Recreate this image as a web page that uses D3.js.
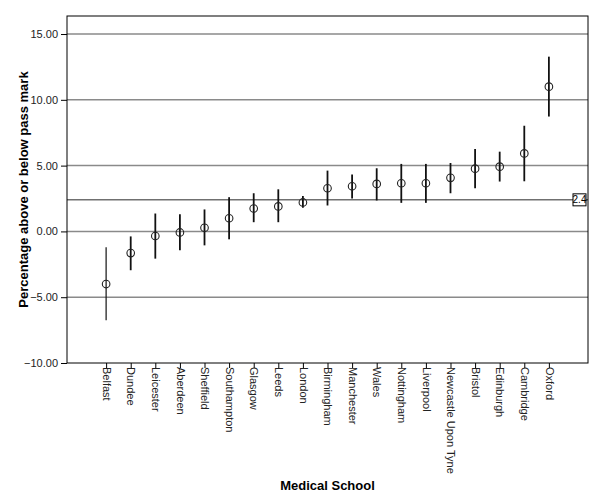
<!DOCTYPE html>
<html>
<head>
<meta charset="utf-8">
<script src="https://cdn.jsdelivr.net/npm/d3@7"></script>
<style>
  body { margin: 0; background: #fff; }
  text { font-family: "Liberation Sans", Arial, sans-serif; }
</style>
</head>
<body>
<div class="chart"></div>
<script>
// medical schools, sorted by mean
var schools = ["Belfast", "Dundee", "Leicester", "Aberdeen", "Sheffield", "Southampton",
  "Glasgow", "Leeds", "London", "Birmingham", "Manchester", "Wales", "Nottingham",
  "Liverpool", "Newcastle Upon Tyne", "Bristol", "Edinburgh", "Cambridge", "Oxford"];
var means = [-4.0, -1.65, -0.35, -0.08, 0.28, 1.0, 1.74, 1.9, 2.2, 3.28, 3.43, 3.61,
  3.66, 3.66, 4.07, 4.77, 4.92, 5.93, 11.0];
var upper = [-1.2, -0.38, 1.36, 1.3, 1.67, 2.6, 2.9, 3.2, 2.7, 4.62, 4.32, 4.8,
  5.13, 5.13, 5.2, 6.27, 6.06, 8.03, 13.28];
var lower = [-6.75, -2.95, -2.07, -1.44, -1.06, -0.6, 0.7, 0.7, 1.8, 1.97, 2.5, 2.35,
  2.17, 2.17, 2.9, 3.28, 3.79, 3.81, 8.73];
var yTicks = [-10, -5, 0, 5, 10, 15];
var gridLines = [-5, 0, 5, 10, 15];
var refValue = 2.4;

var width = 600, height = 500;
var plotLeft = 67, plotRight = 588, plotTop = 16, plotBottom = 363;

var svg = d3.select(".chart").append("svg")
  .attr("width", width)
  .attr("height", height);

var x = d3.scalePoint()
  .domain(schools)
  .range([plotLeft, plotRight])
  .padding(1.59);

var y = d3.scaleLinear()
  .domain([-10, 16.37])
  .range([plotBottom, plotTop]);

// grid lines
svg.selectAll(".grid")
  .data(gridLines)
  .enter().append("line")
  .attr("x1", plotLeft).attr("x2", plotRight)
  .attr("y1", function(d) { return y(d); })
  .attr("y2", function(d) { return y(d); })
  .attr("stroke", "#8a8a8a")
  .attr("stroke-width", 1.5);

// reference line
svg.append("line")
  .attr("x1", plotLeft).attr("x2", plotRight)
  .attr("y1", y(refValue)).attr("y2", y(refValue))
  .attr("stroke", "#707070")
  .attr("stroke-width", 1.5);

// frame
svg.append("rect")
  .attr("x", plotLeft).attr("y", plotTop)
  .attr("width", plotRight - plotLeft).attr("height", plotBottom - plotTop)
  .attr("fill", "none")
  .attr("stroke", "#000")
  .attr("stroke-width", 1);

// y axis
var yAxis = svg.append("g")
  .attr("transform", "translate(" + plotLeft + ",0)")
  .call(d3.axisLeft(y).tickValues(yTicks).tickSize(6).tickFormat(d3.format(".2f")));
yAxis.select(".domain").remove();
yAxis.selectAll("line").attr("stroke", "#000");
yAxis.selectAll("text")
  .attr("font-size", "11px")
  .attr("fill", "#222")
  .attr("dx", "0");

// x axis
var xAxis = svg.append("g")
  .attr("transform", "translate(0," + plotBottom + ")")
  .call(d3.axisBottom(x).tickSize(5).tickSizeOuter(0));
xAxis.select(".domain").remove();
xAxis.selectAll("line").attr("stroke", "#000");
xAxis.selectAll("text")
  .attr("font-size", "11px")
  .attr("fill", "#222")
  .attr("text-anchor", "start")
  .attr("transform", "rotate(90)")
  .attr("x", 4)
  .attr("y", 0)
  .attr("dy", "0.35em");

// error bars
svg.selectAll(".err")
  .data(schools)
  .enter().append("line")
  .attr("x1", function(d) { return x(d); })
  .attr("x2", function(d) { return x(d); })
  .attr("y1", function(d, i) { return y(upper[i]); })
  .attr("y2", function(d, i) { return y(lower[i]); })
  .attr("stroke", "#111")
  .attr("stroke-width", function(d, i) { return i === 0 ? 1.2 : 1.8; });

// means
svg.selectAll(".pt")
  .data(schools)
  .enter().append("circle")
  .attr("cx", function(d) { return x(d); })
  .attr("cy", function(d, i) { return y(means[i]); })
  .attr("r", 3.8)
  .attr("fill", "none")
  .attr("stroke", "#222")
  .attr("stroke-width", 1.1);

// reference label
var lbl = svg.append("g")
  .attr("transform", "translate(" + (plotRight - 15) + "," + (y(refValue) - 6) + ")");
lbl.append("rect")
  .attr("width", 13).attr("height", 12)
  .attr("fill", "#fff")
  .attr("stroke", "#000")
  .attr("stroke-width", 1);
lbl.append("text")
  .attr("x", 6.5).attr("y", 9.5)
  .attr("text-anchor", "middle")
  .attr("font-family", "Liberation Serif, serif")
  .attr("font-size", "10px")
  .text("2.4");

// axis titles
svg.append("text")
  .attr("transform", "translate(27.5," + ((plotTop + plotBottom) / 2) + ") rotate(-90)")
  .attr("text-anchor", "middle")
  .attr("font-size", "13px")
  .attr("font-weight", "bold")
  .text("Percentage above or below pass mark");

svg.append("text")
  .attr("x", (plotLeft + plotRight) / 2)
  .attr("y", 490)
  .attr("text-anchor", "middle")
  .attr("font-size", "13px")
  .attr("font-weight", "bold")
  .text("Medical School");
</script>
</body>
</html>
